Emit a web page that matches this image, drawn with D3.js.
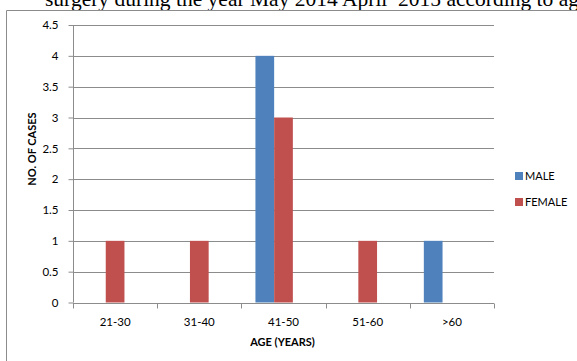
<!DOCTYPE html>
<html>
<head>
<meta charset="utf-8">
<script src="https://cdn.jsdelivr.net/npm/d3@7"></script>
<style>
  html, body { margin: 0; padding: 0; background: #fff; }
  svg { display: block; }
</style>
</head>
<body>
<svg id="chart" width="577" height="361"></svg>
<script>
// Cases by age group and sex
const categories = ["21-30", "31-40", "41-50", "51-60", ">60"];
const male   = [0, 0, 4, 0, 1];
const female = [1, 1, 3, 1, 0];
const seriesNames = ["MALE", "FEMALE"];
const yTicks = [0, 0.5, 1, 1.5, 2, 2.5, 3, 3.5, 4, 4.5];

const colors = { MALE: "#4F81BD", FEMALE: "#C0504D" };
const labelFont = "Lato, 'Open Sans', sans-serif";

const svg = d3.select("#chart");
const W = 577, H = 361;

// caption line of the surrounding text, clipped by the top of the view
svg.append("text")
  .attr("x", 45).attr("y", 6)
  .attr("font-family", "'Liberation Serif', 'Times New Roman', serif")
  .attr("font-size", 21.5)
  .attr("fill", "#000")
  .attr("xml:space", "preserve")
  .text("surgery during the year May 2014 April  2015 according to age");

// chart frame (only top and left edges fall inside the view)
svg.append("path")
  .attr("d", `M6.5,${H} V10.5 H${W}`)
  .attr("fill", "none")
  .attr("stroke", "#8c8c8c")
  .attr("stroke-width", 1);

const plot = { left: 73, right: 494, top: 25, bottom: 302.5 };

const x = d3.scaleBand()
  .domain(categories)
  .range([plot.left, plot.right])
  .paddingInner(0).paddingOuter(0);

// each category holds three bar slots; the last one stays empty
const slotPad = 1.5 / 4.5 / 2;
const xInner = d3.scaleBand()
  .domain([0, 1, 2])
  .range([x.bandwidth() * slotPad, x.bandwidth() * (1 - slotPad)]);

const y = d3.scaleLinear()
  .domain([0, 4.5])
  .range([plot.bottom, plot.top]);

// horizontal gridlines
svg.append("g")
  .selectAll("line")
  .data(yTicks.filter(d => d > 0))
  .join("line")
  .attr("x1", plot.left).attr("x2", plot.right)
  .attr("y1", d => Math.round(y(d)) + 0.5)
  .attr("y2", d => Math.round(y(d)) + 0.5)
  .attr("stroke", "#8c8c8c")
  .attr("stroke-width", 1);

// bars
const rows = categories.map((c, i) => ({ cat: c, MALE: male[i], FEMALE: female[i] }));
seriesNames.forEach((s, si) => {
  svg.append("g")
    .selectAll("rect")
    .data(rows.filter(r => r[s] > 0))
    .join("rect")
    .attr("x", r => x(r.cat) + xInner(si))
    .attr("width", xInner.bandwidth())
    .attr("y", r => y(r[s]))
    .attr("height", r => y(0) - y(r[s]))
    .attr("fill", colors[s]);
});

// y axis
const yAxis = svg.append("g")
  .attr("transform", `translate(${plot.left + 0.5},0)`)
  .call(d3.axisLeft(y).tickValues(yTicks).tickSize(5).tickPadding(10)
    .tickFormat(d3.format("~g")));
yAxis.select(".domain").attr("stroke", "#8c8c8c").attr("d", `M0,${plot.top}V${plot.bottom}`);
yAxis.selectAll(".tick line").attr("stroke", "#8c8c8c");
yAxis.selectAll(".tick text")
  .attr("font-family", labelFont).attr("font-size", 11.5).attr("fill", "#000");

// x axis
const xAxis = svg.append("g")
  .attr("transform", `translate(0,${Math.round(plot.bottom) + 0.5})`)
  .call(d3.axisBottom(x).tickSize(0).tickPadding(14));
xAxis.select(".domain").attr("stroke", "#8c8c8c").attr("d", `M${plot.left},0H${plot.right}`);
xAxis.selectAll(".tick text")
  .attr("font-family", labelFont).attr("font-size", 11.5).attr("fill", "#000");
// category boundary tick marks
xAxis.append("g")
  .selectAll("line")
  .data(categories.concat(["end"]))
  .join("line")
  .attr("x1", (d, i) => Math.round(i < categories.length ? x(d) : plot.right) + 0.5)
  .attr("x2", (d, i) => Math.round(i < categories.length ? x(d) : plot.right) + 0.5)
  .attr("y1", 0).attr("y2", 5)
  .attr("stroke", "#8c8c8c");

// axis titles
svg.append("text")
  .attr("x", (plot.left + plot.right) / 2 - 1).attr("y", 346)
  .attr("text-anchor", "middle")
  .attr("font-family", labelFont).attr("font-weight", "bold").attr("font-size", 11)
  .text("AGE (YEARS)");

svg.append("text")
  .attr("transform", "translate(35.5,149) rotate(-90)")
  .attr("text-anchor", "middle")
  .attr("font-family", labelFont).attr("font-weight", "bold").attr("font-size", 11)
  .text("NO. OF CASES");

// legend
const legend = svg.append("g");
seriesNames.forEach((s, i) => {
  const ly = 176 + i * 26;
  legend.append("rect")
    .attr("x", 515).attr("y", ly - 4)
    .attr("width", 8).attr("height", 8)
    .attr("fill", colors[s]);
  legend.append("text")
    .attr("x", 525).attr("y", ly + 4)
    .attr("font-family", labelFont).attr("font-size", 11)
    .text(s);
});
</script>
</body>
</html>
